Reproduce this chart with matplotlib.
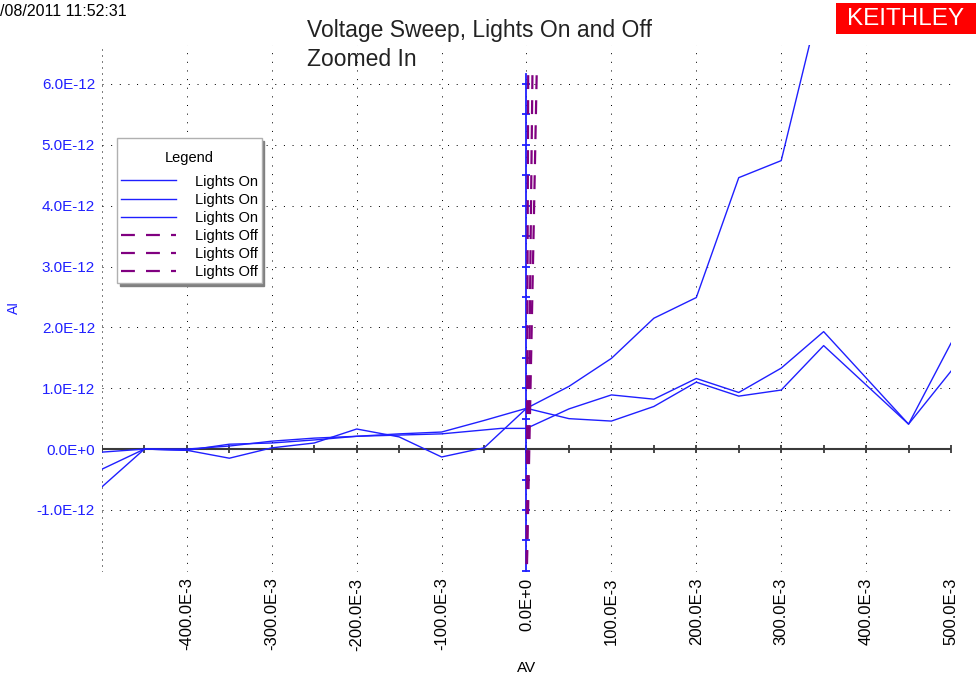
import matplotlib
matplotlib.use('Agg')
import matplotlib.pyplot as plt
from matplotlib.patches import Rectangle
from matplotlib.offsetbox import DrawingArea

plt.rcParams['font.family'] = ['Liberation Sans', 'DejaVu Sans']
plt.rcParams['lines.scale_dashes'] = False

SCALE = 1e-12  # currents below are in units of 1E-12 A

# ---- data (Voltage in V, current in 1E-12 A) ----
on1_v = [-0.50, -0.45, -0.40, -0.35, -0.30, -0.25, -0.20, -0.15, -0.10, -0.05, 0.00, 0.05, 0.10, 0.15, 0.20, 0.25, 0.30, 0.35]
on1_i = [-0.62, 0.00, 0.00, 0.05, 0.13, 0.18, 0.21, 0.25, 0.28, 0.47, 0.67, 1.03, 1.49, 2.15, 2.49, 4.46, 4.74, 7.60]

on2_v = [-0.50, -0.45, -0.40, -0.35, -0.30, -0.25, -0.20, -0.15, -0.10, -0.03, 0.00, 0.05, 0.10, 0.15, 0.20, 0.25, 0.30, 0.35, 0.45, 0.50]
on2_i = [-0.05, 0.00, -0.02, 0.08, 0.10, 0.15, 0.21, 0.23, 0.25, 0.34, 0.34, 0.66, 0.89, 0.82, 1.16, 0.93, 1.33, 1.93, 0.41, 1.74]

on3_v = [-0.50, -0.45, -0.40, -0.35, -0.30, -0.25, -0.20, -0.15, -0.10, -0.05, 0.00, 0.05, 0.10, 0.15, 0.20, 0.25, 0.30, 0.35, 0.45, 0.50]
on3_i = [-0.33, 0.00, -0.02, -0.15, 0.02, 0.10, 0.33, 0.20, -0.13, 0.02, 0.67, 0.50, 0.46, 0.70, 1.10, 0.87, 0.97, 1.70, 0.41, 1.28]

off1_v = [0.000, 0.004, 0.008, 0.012]
off1_i = [-2.30, 0.50, 3.30, 6.16]
off2_v = [0.000, 0.003, 0.005, 0.007]
off2_i = [-2.30, 1.00, 3.60, 6.16]
off3_v = [0.000, 0.001, 0.002]
off3_i = [-2.30, 2.00, 6.16]

x_ticks = [-0.4, -0.3, -0.2, -0.1, 0.0, 0.1, 0.2, 0.3, 0.4, 0.5]
x_labels = ['-400.0E-3', '-300.0E-3', '-200.0E-3', '-100.0E-3', '0.0E+0',
            '100.0E-3', '200.0E-3', '300.0E-3', '400.0E-3', '500.0E-3']
y_ticks = [-1, 0, 1, 2, 3, 4, 5, 6]
y_labels = ['-1.0E-12', '0.0E+0', '1.0E-12', '2.0E-12', '3.0E-12', '4.0E-12', '5.0E-12', '6.0E-12']
x_grid = [-0.5, -0.4, -0.3, -0.2, -0.1, 0.0, 0.1, 0.2, 0.3, 0.4, 0.5]
x_minor = [-0.5, -0.45, -0.4, -0.35, -0.3, -0.25, -0.2, -0.15, -0.1, -0.05, 0.0,
           0.05, 0.1, 0.15, 0.2, 0.25, 0.3, 0.35, 0.4, 0.45, 0.5]
y_axis_ticks = [-2.0, -1.5, -1.0, -0.5, 0.5, 1.0, 1.5, 2.0, 2.5, 3.0, 3.5, 4.0, 4.5, 5.0, 5.5, 6.0]
y_axis_top = 6.16
XMIN, XMAX = -0.5, 0.5
YMIN, YMAX = -2.02, 6.64

BLUE = '#1f1fff'
PURPLE = '#800080'
LABEL_BLUE = '#2020ff'

fig = plt.figure(figsize=(9.79, 6.81), dpi=100)
ax = fig.add_axes([102 / 979, 109 / 681, 849 / 979, 527 / 681])
ax.set_xlim(XMIN, XMAX)
ax.set_ylim(YMIN * SCALE, YMAX * SCALE)
for s in ax.spines.values():
    s.set_visible(False)

dot = (0, (0.72, 5.5))
dense = (0, (0.72, 3.6))
for xv in x_grid:
    ax.axvline(xv, color='black', lw=0.72, ls=dense if xv == XMIN else dot, zorder=1)
for yv in y_ticks:
    ax.axhline(yv * SCALE, color='black', lw=0.72, ls=dot, zorder=1)
ax.axhline(YMIN * SCALE, color='black', lw=0.72, ls=dense, zorder=1)

# zero axis (black) with ticks
ax.axhline(0, color='#3a3a3a', lw=1.5, zorder=2)
ax.plot(x_minor, [0] * len(x_minor), ls='none', marker='|', ms=6, mew=1.3, color='#3a3a3a', zorder=2)

# blue vertical axis at V = 0
ax.plot([0, 0], [YMIN * SCALE, y_axis_top * SCALE], color=BLUE, lw=1.3, zorder=3)
ax.plot([0] * len(y_axis_ticks), [t * SCALE for t in y_axis_ticks], ls='none', marker='_',
        ms=6, mew=1.3, color=BLUE, zorder=3)

h_on = []
for v, i in [(on1_v, on1_i), (on2_v, on2_i), (on3_v, on3_i)]:
    ln, = ax.plot(v, [k * SCALE for k in i], color=BLUE, lw=1.0, label='Lights On', zorder=4)
    h_on.append(ln)
h_off = []
for v, i in [(off1_v, off1_i), (off2_v, off2_i), (off3_v, off3_i)]:
    ln, = ax.plot(v, [k * SCALE for k in i], color=PURPLE, lw=1.6, ls=(0, (10, 8)),
                  label='Lights Off', zorder=5)
    h_off.append(ln)

ax.set_xticks(x_ticks)
ax.set_xticklabels(x_labels, rotation=90, fontsize=12, color='black')
ax.set_yticks([t * SCALE for t in y_ticks])
ax.set_yticklabels(y_labels, fontsize=11, color=LABEL_BLUE)
ax.tick_params(axis='both', length=0)
ax.tick_params(axis='x', pad=4)
ax.tick_params(axis='y', pad=5)

leg = ax.legend(handles=h_on + h_off, title='Legend', loc='upper left',
                bbox_to_anchor=((117 - 102) / 849, (572 - 138) / 527), borderaxespad=0,
                fontsize=10.5, title_fontsize=10.5, handlelength=3.8, handletextpad=1.3,
                labelspacing=0.285, borderpad=0.25, fancybox=False, framealpha=1,
                edgecolor='#b0b0b0',
                shadow={'color': '#808080', 'alpha': 1.0})
leg.get_frame().set_linewidth(1.0)
leg.set_zorder(10)
# extra space above and below the legend title
leg._legend_box._children.insert(0, DrawingArea(0, 0))
leg._legend_box.sep = 6.8

fig.text(0 / 979, 1 - 12 / 681, '/08/2011 11:52:31', fontsize=11.5, ha='left', va='center')
fig.text(307 / 979, 1 - 31 / 681, 'Voltage Sweep, Lights On and Off', fontsize=16.5,
         ha='left', va='center', color='#222222')
fig.text(307 / 979, 1 - 60 / 681, 'Zoomed In', fontsize=16.5, ha='left', va='center', color='#222222')

fig.patches.append(Rectangle((836 / 979, 1 - 34 / 681), 140 / 979, 31 / 681,
                             transform=fig.transFigure, facecolor='#ff0000', edgecolor='none'))
fig.text(906 / 979, 1 - 19 / 681, 'KEITHLEY', fontsize=17.5, color='white', ha='center', va='center')

fig.text(527 / 979, 1 - 668 / 681, 'AV', fontsize=11, ha='center', va='center')
fig.text(14 / 979, 1 - 307 / 681, 'AI', fontsize=10, ha='center', va='center', rotation=90,
         color=LABEL_BLUE)

fig.savefig('out.png', dpi=100)
